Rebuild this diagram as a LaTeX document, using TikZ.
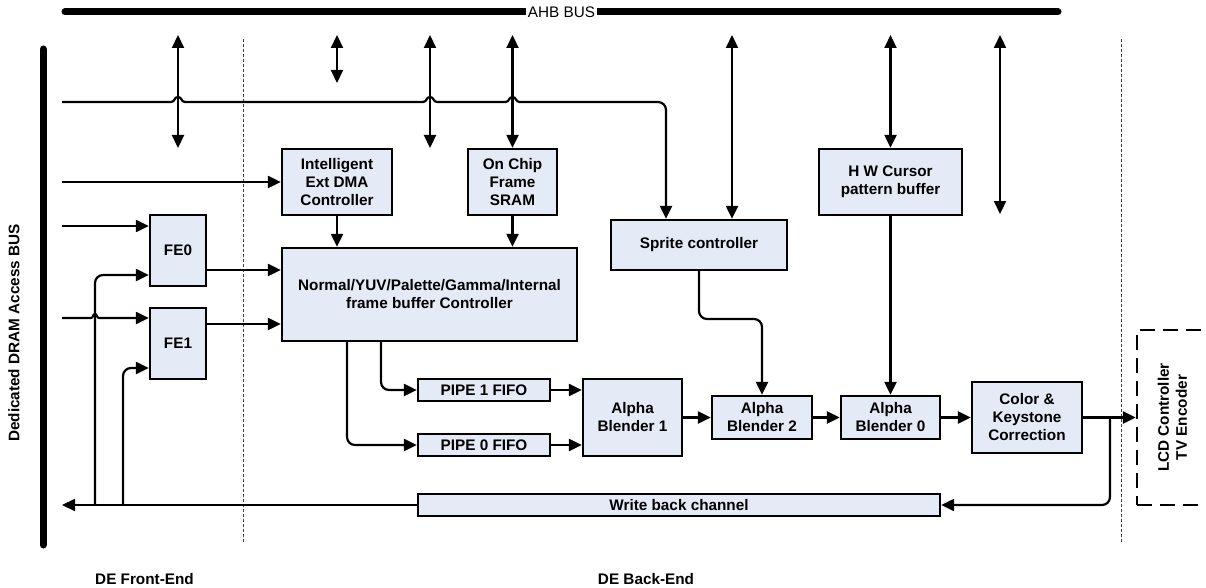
\documentclass[tikz,border=0pt]{standalone}
\usepackage{fontspec}
\setmainfont{Liberation Sans}
\usetikzlibrary{arrows.meta,calc}
\definecolor{boxfill}{RGB}{229,235,246}
\begin{document}
\begin{tikzpicture}[x=1pt,y=-1pt,
  txt/.style={font=\bfseries\fontsize{15.3}{18}\selectfont},
  box/.style={txt, draw=black, line width=2.3pt, fill=boxfill, inner sep=0pt, align=center},
  conn/.style={line width=2.2pt},
  arr/.style={conn,-{Triangle[length=13pt,width=12pt]}},
  darr/.style={conn,{Triangle[length=13pt,width=12pt]}-{Triangle[length=13pt,width=12pt]}},
  lbl/.style={txt, inner sep=0pt},
  divider/.style={draw=black!75, line width=1pt, dash pattern=on 3pt off 2pt},
  busline/.style={line width=7pt, line cap=round}]
\useasboundingbox (0,0) rectangle (1206,588);

% dividers
\draw[divider] (243,39) -- (243,543);
\draw[divider] (1121,39) -- (1121,543);

% buses
\draw[busline] (65,12) coordinate (ahbL) -- (1058,12) coordinate (ahbR);
\node[font=\fontsize{15.3}{18}\selectfont, fill=white, inner xsep=1.5pt, inner ysep=1pt] (ahb) at (561.5,12) {AHB BUS};
\draw[busline] (43,49) coordinate (dramT) -- (43,545) coordinate (dramB);
\node[lbl, rotate=90] (dram) at (14,333) {Dedicated DRAM Access BUS};

% boxes
\node[box, minimum width=110pt, minimum height=66pt] (dma) at (337,182) {Intelligent\\Ext DMA\\Controller};
\node[box, minimum width=89pt, minimum height=66pt] (sram) at (512.5,182) {On Chip\\Frame\\SRAM};
\node[box, minimum width=143pt, minimum height=66pt] (hw) at (890.5,182) {H W Cursor\\pattern buffer};
\node[box, minimum width=176pt, minimum height=50pt] (sprite) at (699,245) {Sprite controller};
\node[box, minimum width=56pt, minimum height=71pt] (fe0) at (178,250.5) {FE0};
\node[box, minimum width=56pt, minimum height=71pt] (fe1) at (178,343.5) {FE1};
\node[box, minimum width=295pt, minimum height=93pt] (norm) at (429.5,294.5) {Normal/YUV/Palette/Gamma/Internal\\frame buffer Controller};
\node[box, minimum width=132pt, minimum height=22pt] (pipe1) at (484,390) {PIPE 1 FIFO};
\node[box, minimum width=132pt, minimum height=22pt] (pipe0) at (484,445) {PIPE 0 FIFO};
\node[box, minimum width=99pt, minimum height=77pt] (ab1) at (632.5,417.5) {Alpha\\Blender 1};
\node[box, minimum width=100pt, minimum height=43pt] (ab2) at (762,417.5) {Alpha\\Blender 2};
\node[box, minimum width=99pt, minimum height=43pt] (ab0) at (890.5,417.5) {Alpha\\Blender 0};
\node[box, minimum width=110pt, minimum height=71pt] (ck) at (1027,417.5) {Color \&\\Keystone\\Correction};
\node[box, minimum width=522pt, minimum height=22pt] (wb) at (679,505) {Write back channel};
\node[draw=black, line width=2.3pt, dash pattern=on 15pt off 8pt, minimum width=71pt, minimum height=175pt, inner sep=0pt] (lcd) at (1172.5,417.5) {};
\node[lbl, rotate=90, align=center] (lcdtxt) at (lcd.center) {LCD Controller\\TV Encoder};

% section labels
\node[lbl] (felbl) at (144.5,579) {DE Front-End};
\node[lbl] (belbl) at (646,579) {DE Back-End};

% AHB bidirectional arrows
\coordinate (t1) at (178,35); \coordinate (b1) at (178,148);
\coordinate (t2) at (337,35); \coordinate (b2) at (337,83);
\coordinate (t3) at (430,35); \coordinate (b3) at (430,148);
\coordinate (t4) at (512.5,35);
\coordinate (t5) at (732,35);
\coordinate (t6) at (890.5,35);
\coordinate (t7) at (1000,35); \coordinate (b7) at (1000,214);
\draw[darr] (t1) -- (b1);
\draw[darr] (t2) -- (b2);
\draw[darr] (t3) -- (b3);
\draw[darr] (t4) -- (sram.north);
\draw[darr] (t5) -- (t5 |- sprite.north);
\draw[darr] (t6) -- (hw.north);
\draw[darr] (t7) -- (b7);

% DRAM bus side
\coordinate (d1) at (62,102);
\coordinate (d2) at (62,182);
\coordinate (d3) at (62,226);
\coordinate (d4) at (62,318);
\coordinate (d5) at (62,505);

\draw[arr] (d1) -- (171,102) .. controls (175,102) and (174,97) .. (178,97) .. controls (182,97) and (181,102) .. (185,102)
  -- (423,102) .. controls (427,102) and (426,97) .. (430,97) .. controls (434,97) and (433,102) .. (437,102)
  -- (505.5,102) .. controls (509.5,102) and (508.5,97) .. (512.5,97) .. controls (516.5,97) and (515.5,102) .. (519.5,102)
  [rounded corners=8pt] -| ([xshift=-33pt]sprite.north);
\draw[arr] (d2) -- (dma.west);
\draw[arr] (d3) -- (d3 -| fe0.west);
\draw[arr] (d4) -- (91,318) .. controls (93.5,318) and (92.5,314) .. (95,314) .. controls (97.5,314) and (96.5,318) .. (99,318) -- (d4 -| fe1.west);
\draw[arr] (wb.west) -- (d5);

\coordinate (w1) at (95,505);
\coordinate (w2) at (123,505);
\draw[arr, rounded corners=8pt] (w1) |- (fe0.west |- 0,275);
\draw[arr, rounded corners=8pt] (w2) |- (fe1.west |- 0,368);

% front end to controller
\draw[arr] (fe0.east |- 0,270) -- (norm.west |- 0,270);
\draw[arr] (fe1.east |- 0,324) -- (norm.west |- 0,324);
\draw[arr] (dma.south) -- (dma.south |- norm.north);
\draw[arr] (sram.south) -- (sram.south |- norm.north);

% pipes
\draw[arr, rounded corners=8pt] (norm.south -| 381,0) |- (pipe1.west);
\draw[arr, rounded corners=8pt] (norm.south -| 347,0) |- (pipe0.west);
\draw[arr] (pipe1.east) -- (pipe1.east -| ab1.west);
\draw[arr] (pipe0.east) -- (pipe0.east -| ab1.west);

% blend chain
\draw[arr] (ab1.east) -- (ab2.west);
\draw[arr] (ab2.east) -- (ab0.west);
\draw[arr] (ab0.east) -- (ck.west);
\draw[arr] (ck.east) -- (ck.east -| lcd.west);
\coordinate (br) at (1110,417.5);
\draw[arr, rounded corners=8pt] (br) |- (wb.east);

\draw[arr, rounded corners=8pt] (sprite.south) -- (sprite.south |- 0,319) -| (ab2.north);
\draw[arr] (hw.south) -- (ab0.north);
\end{tikzpicture}
\end{document}
